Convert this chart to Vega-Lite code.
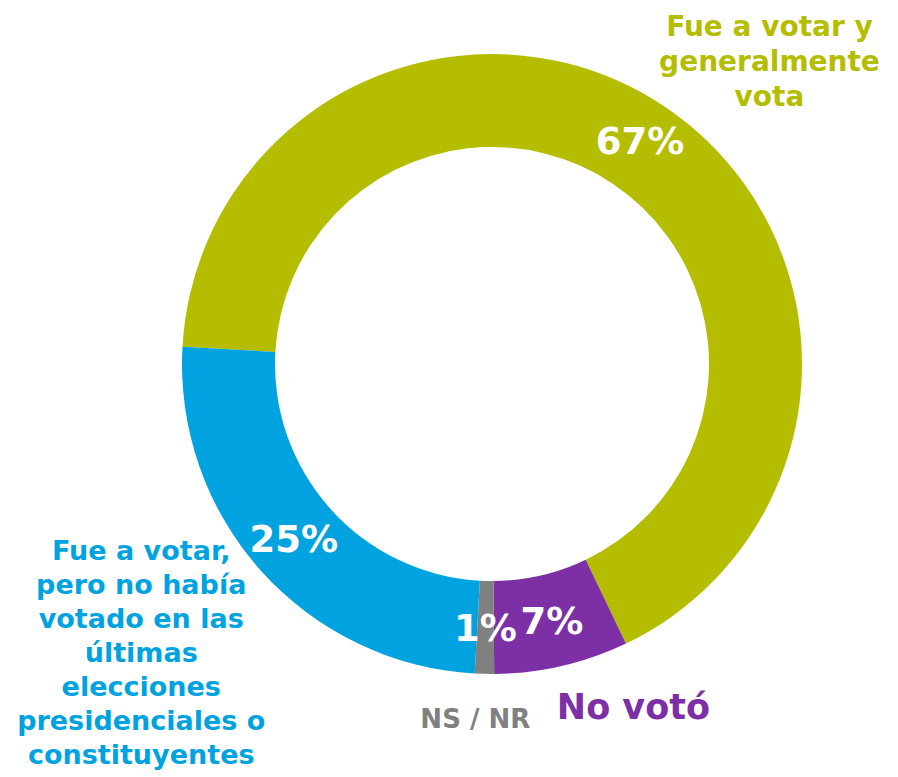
{
  "$schema": "https://vega.github.io/schema/vega-lite/v6.json",
  "width": 812,
  "height": 728,
  "autosize": {"type": "none"},
  "padding": {"left": 86, "top": 0, "right": 0, "bottom": 49},
  "background": "white",
  "view": {"stroke": null},
  "config": {"text": {"font": "DejaVu Sans", "fontWeight": "bold"}},
  "data": {
    "values": [
      {"cat": "Fue a votar y generalmente vota", "label": "Fue a votar y\ngeneralmente\nvota", "pct": 67, "ord": 1, "pctLabel": "67%"},
      {"cat": "No votó", "label": "No votó", "pct": 7, "ord": 2, "pctLabel": "7%"},
      {"cat": "NS / NR", "label": "NS / NR", "pct": 1, "ord": 3, "pctLabel": "1%"},
      {"cat": "Fue a votar, pero no había votado en las últimas elecciones presidenciales o constituyentes", "label": "Fue a votar,\npero no había\nvotado en las\núltimas\nelecciones\npresidenciales o\nconstituyentes", "pct": 25, "ord": 4, "pctLabel": "25%"}
    ]
  },
  "encoding": {
    "theta": {"field": "pct", "type": "quantitative", "stack": true, "scale": {"range": [4.7682, 11.0514]}},
    "order": {"field": "ord", "type": "quantitative"},
    "detail": {"field": "cat", "type": "nominal"}
  },
  "layer": [
    {
      "mark": {"type": "arc", "outerRadius": 310, "innerRadius": 217},
      "encoding": {
        "color": {
          "field": "cat", "type": "nominal", "legend": null,
          "scale": {
            "domain": ["Fue a votar y generalmente vota", "No votó", "NS / NR", "Fue a votar, pero no había votado en las últimas elecciones presidenciales o constituyentes"],
            "range": ["#B5BD00", "#7D2FA6", "#808080", "#00A3E0"]
          }
        }
      }
    },
    {
      "mark": {"type": "text", "radius": 266, "fontSize": 37, "color": "white", "align": "center", "baseline": "middle"},
      "encoding": {"text": {"field": "pctLabel"}}
    },
    {
      "mark": {"type": "text", "radius": 364, "dx": 75, "dy": -34, "fontSize": 28, "color": "#B5BD00", "align": "center", "baseline": "middle", "lineBreak": "\n", "lineHeight": 35},
      "encoding": {"text": {"condition": {"test": "datum.ord === 1", "field": "label"}, "value": ""}}
    },
    {
      "mark": {"type": "text", "radius": 353, "dx": 62, "fontSize": 35, "color": "#7D2FA6", "align": "center", "baseline": "middle"},
      "encoding": {"text": {"condition": {"test": "datum.ord === 2", "field": "label"}, "value": ""}}
    },
    {
      "mark": {"type": "text", "radius": 356, "dx": -8, "fontSize": 26, "color": "#808080", "align": "center", "baseline": "middle"},
      "encoding": {"text": {"condition": {"test": "datum.ord === 3", "field": "label"}, "value": ""}}
    },
    {
      "mark": {"type": "text", "radius": 437, "dx": -25, "dy": -103, "fontSize": 27, "color": "#00A3E0", "align": "center", "baseline": "middle", "lineBreak": "\n", "lineHeight": 34},
      "encoding": {"text": {"condition": {"test": "datum.ord === 4", "field": "label"}, "value": ""}}
    }
  ]
}
